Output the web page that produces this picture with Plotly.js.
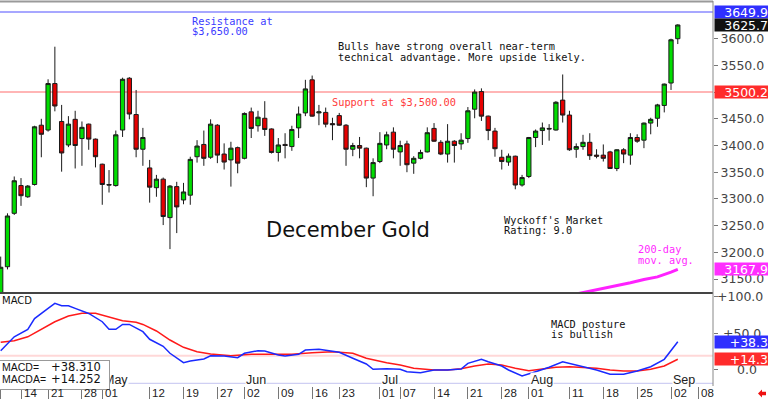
<!DOCTYPE html>
<html><head><meta charset="utf-8">
<script src="https://cdn.plot.ly/plotly-3.0.1.min.js"></script>
<style>html,body{margin:0;padding:0;background:#fff;overflow:hidden}#chart{width:768px;height:399px}</style>
</head><body><div id="chart"></div>
<script>
// ---- data (trading-day index 0 = Apr 9 ... 100 = Sep 3) ----
const opens  = [3105,3173,3273,3325,3304,3327,3438,3429,3516,3445,3401,3449,3413,3440,3412,3365,3327,3325,3429,3526,3458,3393,3358,3321,3337,3265,3323,3298,3307,3379,3402,3378,3438,3384,3373,3396,3376,3463,3437,3451,3431,3387,3402,3398,3433,3461,3523,3461,3462,3441,3456,3438,3393,3400,3395,3339,3370,3401,3425,3388,3403,3367,3376,3388,3432,3406,3384,3408,3403,3413,3468,3501,3455,3427,3378,3369,3380,3326,3342,3415,3428,3432,3429,3485,3457,3393,3398,3406,3382,3382,3388,3357,3392,3382,3415,3410,3442,3451,3475,3517,3600];
const highs  = [3192,3273,3342,3339,3326,3437,3450,3524,3585,3476,3455,3465,3445,3441,3413,3366,3354,3428,3527,3528,3504,3433,3373,3345,3340,3326,3332,3330,3379,3410,3428,3449,3440,3404,3407,3398,3462,3471,3465,3483,3432,3414,3423,3437,3473,3523,3531,3476,3471,3452,3461,3440,3405,3416,3396,3376,3425,3426,3434,3409,3409,3380,3392,3434,3442,3410,3440,3410,3423,3472,3505,3507,3456,3433,3392,3385,3381,3345,3416,3430,3443,3440,3483,3533,3465,3404,3420,3423,3393,3402,3390,3393,3395,3423,3421,3443,3452,3478,3516,3600,3627];
const lows   = [3095,3168,3270,3287,3302,3325,3378,3426,3464,3351,3397,3357,3362,3392,3359,3289,3312,3323,3416,3449,3378,3362,3293,3304,3251,3206,3236,3290,3289,3368,3362,3375,3367,3355,3323,3348,3374,3414,3426,3418,3385,3370,3376,3390,3414,3455,3454,3438,3434,3410,3437,3362,3380,3376,3322,3305,3367,3393,3376,3362,3350,3347,3374,3387,3407,3382,3368,3368,3392,3405,3451,3446,3410,3379,3355,3362,3318,3323,3339,3397,3401,3409,3428,3443,3390,3377,3392,3373,3376,3370,3356,3352,3367,3364,3405,3395,3421,3435,3462,3504,3590];
const closes = [3172,3268,3334,3306,3324,3435,3421,3516,3474,3386,3440,3400,3434,3412,3379,3327,3326,3420,3524,3459,3393,3415,3322,3337,3267,3324,3285,3313,3374,3399,3376,3440,3382,3369,3395,3367,3460,3432,3453,3430,3387,3401,3400,3430,3459,3506,3455,3463,3440,3439,3438,3393,3400,3395,3339,3368,3404,3420,3393,3400,3364,3376,3387,3424,3408,3384,3408,3400,3410,3465,3500,3455,3428,3394,3370,3380,3326,3340,3415,3427,3433,3431,3481,3457,3392,3398,3406,3381,3380,3376,3357,3392,3384,3415,3408,3442,3449,3476,3515,3598,3625.7];

const macdIdx  = [0,2,4,5,7,8,9,10,11,12,13,15,16,17,18,19,20,21,22,24,25,27,28,30,31,33,35,36,38,39,41,42,44,45,47,50,52,54,55,57,59,60,62,64,66,68,69,71,72,74,75,77,79,81,83,85,86,88,90,92,94,96,98,99,100];
const macdVals = [25.9,45,55,70,84,91,87.7,87.7,84,80.8,77,65.7,55.3,55.3,62,62,57.5,52,41.6,32,22.4,9.5,11.8,14.5,19,18.7,16.3,22.4,26,25.5,20,18.7,21,26.9,27.8,23.7,15.5,7.7,0.4,1.2,0.4,-2.9,-4.2,-0.5,-0.5,0.8,8.6,14.1,10.8,4.9,-0.5,-8.8,-2.9,3.2,10.8,6.3,4,-0.5,-6.4,-6.4,-1.9,4,14.1,26.9,38.31];
const signalIdx  = [0,2,4,6,8,10,12,14,16,18,20,21,23,25,27,29,31,34,37,40,43,46,49,52,54,57,59,61,64,66,68,70,72,74,76,78,80,82,84,86,88,90,92,94,96,98,100];
const signalVals = [37.4,39.7,45,55.3,65.7,73.5,77.2,77.2,72.6,67,64.9,62,53,40.6,30.6,24.6,21.4,19,21,21.4,21,23.2,24.6,22.4,15.5,9.5,6.3,1.8,-0.5,-0.5,1.2,4.9,7.7,6.3,1.8,-1.5,0.4,3.2,4,3.2,1.8,-0.5,-1.9,-1.9,0.4,4.9,14.252];

const maIdx  = [85,87,90,93,95,97,99,100];
const maVals = [3122,3127,3135,3143,3149,3154,3163,3167.9];

const tickIdx  = [3,7,12,15,22,27,32,36,41,46,50,56,59,64,69,74,78,84,89,94,99,103];
const tickText = ['14','21','28','01','12','19','27','02','09','16','23','01','07','14','21','28','01','11','18','25','02','08'];
const monthIdx  = [15,36,56,78,99];
const monthText = ['May','Jun','Jul','Aug','Sep'];
const priceTicks = [3150,3200,3250,3300,3350,3400,3450,3500,3550,3600];

const resistance = 3649.9, support = 3500.2, lastPrice = 3625.7, ma200 = 3167.9;
const macdLast = 38.310, macdaLast = 14.252, macdRef = 19;

// ---- geometry helpers (pixel -> paper) ----
const PX = x => x / 713;
const PY = y => (386 - y) / 385;
const split = PY(293);

const xs = closes.map((_, i) => i);

const traces = [
  {type:'candlestick', x: xs, open: opens, high: highs, low: lows, close: closes,
   xaxis:'x', yaxis:'y', hoverinfo:'skip', whiskerwidth:0,
   increasing:{line:{color:'#1a1a1a', width:1}, fillcolor:'#00dd00'},
   decreasing:{line:{color:'#1a1a1a', width:1}, fillcolor:'#e60000'}},
  {type:'scatter', mode:'lines', x: maIdx, y: maVals, xaxis:'x', yaxis:'y',
   line:{color:'#ff22ff', width:3}, hoverinfo:'skip'},
  {type:'scatter', mode:'lines', x: signalIdx, y: signalVals, xaxis:'x', yaxis:'y2',
   line:{color:'#ff1a1a', width:1.5}, hoverinfo:'skip'},
  {type:'scatter', mode:'lines', x: macdIdx, y: macdVals, xaxis:'x', yaxis:'y2',
   line:{color:'#1a2aff', width:1.5}, hoverinfo:'skip'}
];

const mono = 'DejaVu Sans Mono', sans = 'DejaVu Sans', arial = 'Liberation Sans';
const ann = [];
function txt(text, x, y, color, size, family, extra) {
  ann.push(Object.assign({text, xref:'paper', yref:'paper', x:PX(x), y:PY(y), xanchor:'left', yanchor:'middle',
    showarrow:false, borderpad:0, font:{family: family || mono, size: size || 10.3, color: color || '#111'}}, extra || {}));
}
txt('Resistance at', 191, 21, '#3b3bff');
txt('$3,650.00', 191, 31, '#3b3bff');
txt('Bulls have strong overall near-term', 337, 46);
txt('technical advantage. More upside likely.', 337, 57);
txt('Support at $3,500.00', 331, 102, '#ff3b3b');
txt('December Gold', 265, 230, '#111', 21, sans);
txt("Wyckoff's Market", 503, 220);
txt('Rating: 9.0', 503, 230.5);
txt('200-day', 637, 249, '#ff2aff');
txt('mov. avg.', 637, 259.5, '#ff2aff');
txt('MACD posture', 550, 324);
txt('is bullish', 550, 334);
txt('MACD', 0.5, 300.5, '#111', 10, sans);

// month labels (masking the underline)
monthIdx.forEach((m, k) => ann.push({text: monthText[k], xref:'x', yref:'paper', x:m, y:PY(380), xanchor:'left', yanchor:'middle',
  xshift:1, showarrow:false, borderpad:0, bgcolor:'#fff', font:{family:arial, size:12.5, color:'#222'}}));
// MACD legend box
ann.push({text:' ', xref:'paper', yref:'paper', x:PX(-1), y:PY(360), xanchor:'left', yanchor:'top', width:109, height:28,
  bgcolor:'#fff', bordercolor:'#999', borderwidth:1, borderpad:0, showarrow:false, font:{size:10}});
txt('MACD=', 0.5, 367, '#111', 10.5, arial);
txt('MACDA=', 0.5, 378.5, '#111', 10.5, arial);
txt('+' + macdLast.toFixed(3), 50, 367, '#111', 11.5, sans);
txt('+' + macdaLast.toFixed(3), 50, 378.5, '#111', 11.5, sans);

// date labels
tickIdx.forEach((t, k) => ann.push({text: tickText[k], xref:'x', yref:'paper', x:t, y:PY(392.5), xanchor:'left', yanchor:'middle',
  xshift:1.5, showarrow:false, borderpad:0, font:{family:arial, size:11.5, color:'#222'}}));

// MACD right axis labels
[['+100.0', 100, 716], ['+50.0', 50, 722], ['0.0', 0, 736]].forEach(a => ann.push({text:a[0], xref:'paper', yref:'y2', x:PX(a[2]), y:a[1],
  xanchor:'left', yanchor:'middle', showarrow:false, borderpad:0, font:{family:sans, size:12.5, color:'#444'}}));

// value boxes on right
function box(text, yref, val, bg) {
  ann.push({text, xref:'paper', yref, x:PX(714), y:val, xanchor:'left', yanchor:'middle', width:53, height:12, align:'right',
    bgcolor:bg, borderpad:0, showarrow:false, font:{family:sans, size:12.5, color:'#fff'}});
}
box(resistance.toFixed(1), 'y', resistance, '#2f2fff');
box(lastPrice.toFixed(1), 'y', lastPrice, '#111');
box(support.toFixed(1), 'y', support, '#ff2b2b');
box(ma200.toFixed(1), 'y', ma200, '#ff2eff');
box('+' + macdLast.toFixed(1), 'y2', macdLast, '#2f2fff');
box('+' + macdaLast.toFixed(1), 'y2', macdaLast, '#ff2b2b');

const arrow = `M ${PX(758)} ${PY(393.5)} L ${PX(762)} ${PY(389.5)} L ${PX(762)} ${PY(391.8)} L ${PX(766)} ${PY(391.8)} L ${PX(766)} ${PY(395.2)} L ${PX(762)} ${PY(395.2)} L ${PX(762)} ${PY(397.5)} Z`;

const shapes = [
  {type:'line', xref:'paper', yref:'y', x0:0, x1:1, y0:resistance, y1:resistance, line:{color:'#8a8aff', width:1.5}, layer:'below'},
  {type:'line', xref:'paper', yref:'y', x0:0, x1:1, y0:support, y1:support, line:{color:'#ff9c9c', width:1.5}, layer:'below'},
  {type:'line', xref:'paper', yref:'y2', x0:0, x1:1, y0:macdRef, y1:macdRef, line:{color:'#ffd8d8', width:2}, layer:'below'},
  {type:'line', xref:'paper', yref:'paper', x0:0, x1:1, y0:PY(383.3), y1:PY(383.3), line:{color:'#c4c4f0', width:1}, layer:'below'},
  {type:'line', xref:'paper', yref:'paper', x0:0, x1:1, y0:PY(1.5), y1:PY(1.5), line:{color:'#9a9a9a', width:2}},
  {type:'line', xref:'paper', yref:'paper', x0:0, x1:1, y0:split, y1:split, line:{color:'#444', width:2}},
  {type:'line', xref:'paper', yref:'paper', x0:1, x1:1, y0:0, y1:1, line:{color:'#888', width:1}},
  {type:'path', xref:'paper', yref:'paper', path:arrow, fillcolor:'#ee1111', line:{width:0}}
];

const layout = {
  width:768, height:399, margin:{l:0, r:55, t:1, b:13, pad:0},
  paper_bgcolor:'#fff', plot_bgcolor:'#fff', showlegend:false, dragmode:false,
  boxgap:0.1, boxgroupgap:0.3,
  xaxis:{range:[-0.103, 105.2], anchor:'y2', showgrid:false, zeroline:false, showline:false,
    rangeslider:{visible:false}, tickvals:[0].concat(tickIdx), ticks:'outside', ticklen:13, tickwidth:1, tickcolor:'#777',
    showticklabels:false, fixedrange:true},
  yaxis:{domain:[split, 1], range:[3123.8, 3670.6], side:'right', anchor:'x', showgrid:false, zeroline:false, showline:false,
    tickvals:priceTicks, tickformat:'.1f', ticks:'outside', ticklen:4, tickcolor:'#777',
    tickfont:{family:sans, size:12.5, color:'#444'}, fixedrange:true},
  yaxis2:{domain:[0, split], range:[-22.5, 105.1], side:'right', anchor:'x', showgrid:false, zeroline:false, showline:false,
    tickvals:[0,50,100], ticks:'outside', ticklen:4, tickcolor:'#777', showticklabels:false, fixedrange:true},
  shapes, annotations: ann
};

Plotly.newPlot('chart', traces, layout, {displayModeBar:false, staticPlot:true});
</script></body></html>
